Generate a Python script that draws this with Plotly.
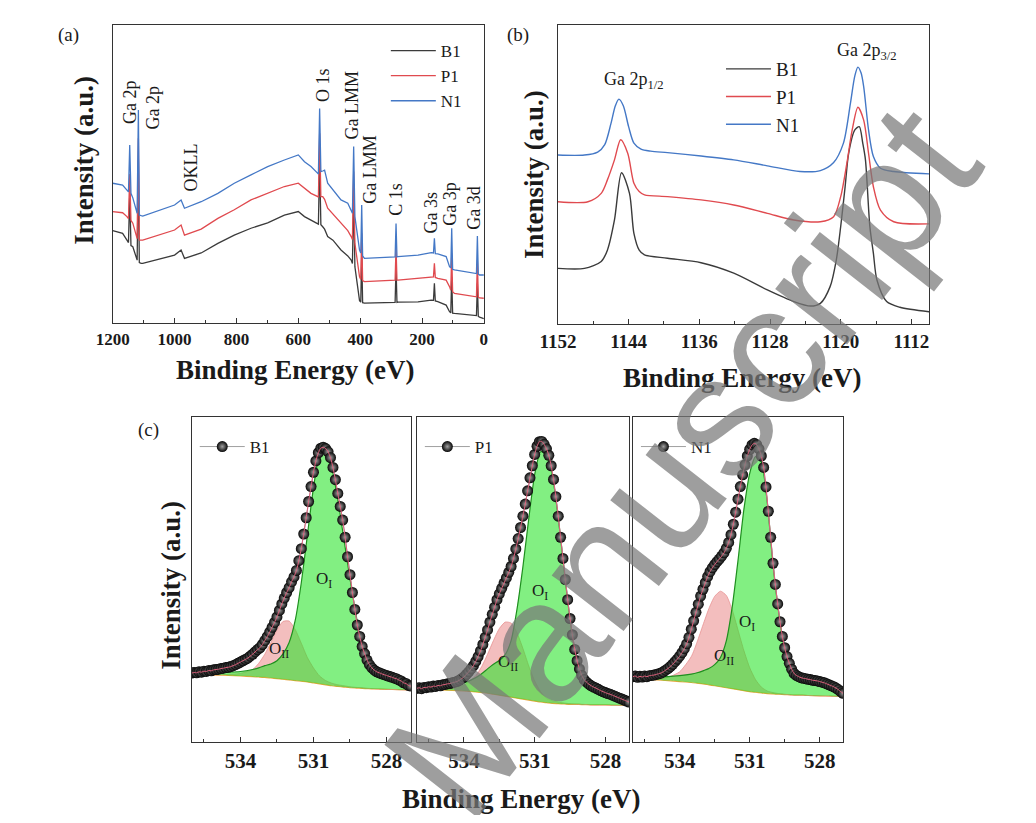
import plotly.graph_objects as go

# ---------------- (a) survey spectra ----------------
survey_ev = [1200, 1168, 1154, 1149, 1145, 1141, 1135, 1128, 1121, 1117, 1114, 1108, 1103,
             1000, 984, 979, 968, 914, 860, 807, 753, 699, 645, 600, 580, 559, 537,
             535, 531, 527, 521, 515, 505, 488, 462, 440, 429, 425, 421, 417, 402, 398,
             395, 392, 386, 321, 287, 284, 281, 278, 213, 170, 163, 160, 157, 149,
             122, 111, 107, 104, 101, 95, 30, 24, 21, 18, 14, 0]
survey_b1 = [31.0, 30.1, 27.8, 27.0, 43.5, 26.0, 25.6, 23.0, 21.1, 54.7, 20.3, 20.0, 20.0,
             22.8, 23.9, 24.5, 21.7, 23.5, 26.7, 29.5, 31.8, 33.6, 36.2, 37.4, 35.7, 34.6, 33.4,
             33.2, 54.7, 33.0, 32.3, 31.5, 29.0, 27.8, 24.5, 22.5, 21.1, 20.0, 42.4, 18.9, 7.5, 7.0,
             23.4, 6.8, 6.7, 6.8, 6.9, 18.9, 6.9, 7.0, 7.1, 7.7, 7.6, 13.3, 7.4, 7.2,
             6.0, 3.8, 3.4, 15.5, 3.3, 3.2, 2.7, 2.5, 13.3, 2.2, 2.0, 1.5]
survey_p1 = [37.4, 37.0, 35.7, 35.0, 50.0, 34.4, 33.5, 31.0, 28.3, 62.0, 27.8, 27.8, 27.8,
             31.2, 32.3, 32.9, 29.5, 31.5, 35.1, 38.0, 41.3, 43.5, 45.8, 46.9, 45.2, 43.5, 42.4,
             42.2, 63.7, 42.4, 42.4, 41.5, 38.5, 36.5, 33.4, 31.0, 29.0, 28.0, 50.8, 26.7, 15.5, 14.6,
             30.1, 14.2, 13.9, 14.2, 14.4, 25.6, 14.4, 14.4, 15.0, 15.5, 15.5, 20.0, 15.3, 15.0,
             14.4, 12.2, 11.0, 23.4, 10.5, 9.9, 9.0, 8.8, 21.1, 8.6, 8.4, 8.3]
survey_n1 = [46.9, 46.3, 44.6, 44.0, 59.7, 43.5, 42.0, 39.0, 36.8, 71.5, 36.2, 36.0, 35.9,
             39.6, 40.7, 41.3, 38.5, 40.7, 43.5, 46.9, 49.7, 52.5, 54.7, 56.4, 54.1, 52.5, 50.2,
             50.0, 72.0, 50.8, 51.0, 51.3, 46.9, 44.6, 41.3, 40.2, 37.5, 36.8, 59.2, 35.7, 24.5, 23.5,
             39.6, 22.5, 21.7, 22.0, 22.2, 33.4, 22.2, 22.3, 22.8, 23.6, 23.5, 28.4, 23.3, 23.2,
             22.3, 18.9, 18.5, 31.8, 18.0, 17.8, 16.9, 16.6, 29.2, 16.4, 16.1, 16.1]

# ---------------- (b) Ga 2p region ----------------
ga_ev_b1 = [1152, 1149.0, 1147.1, 1146.4, 1145.6, 1144.8, 1143.9, 1143.4, 1142.8, 1142.2, 1139.6,
            1135.8, 1132.1, 1128.3, 1125.3, 1123.4, 1122.3, 1121.2, 1120.5, 1120.0, 1119.5, 1119.1,
            1118.4, 1117.9, 1117.5, 1117.2, 1116.7, 1116.3, 1115.9, 1114.8, 1113.3, 1110]
ga_b1 = [18.6, 18.6, 20.9, 24.7, 34.8, 50.6, 43.7, 30.3, 24.7, 23.1, 22.0,
         20.5, 17.0, 11.4, 7.5, 6.0, 6.9, 12.5, 21.4, 32.6, 45.9, 57.1,
         64.9, 66.0, 60.4, 54.9, 32.6, 23.6, 14.7, 7.5, 5.6, 4.1]
ga_ev_p1 = [1152, 1148.6, 1147.1, 1146.4, 1145.6, 1144.9, 1144.1, 1143.4, 1142.8, 1142.2, 1139.6,
            1135.8, 1132.1, 1128.3, 1125.3, 1122.3, 1120.8, 1120.0, 1119.3, 1118.7, 1118.05,
            1117.4, 1116.85, 1116.3, 1115.5, 1114.0, 1110]
ga_p1 = [40.9, 40.9, 43.7, 48.2, 54.9, 61.6, 57.1, 47.1, 44.3, 43.2, 42.6,
         41.5, 39.8, 37.0, 34.8, 34.2, 35.9, 42.6, 53.8, 64.9, 72.5,
         68.2, 57.1, 45.9, 38.1, 34.2, 33.5]
ga_ev_n1 = [1152, 1149.0, 1147.5, 1146.7, 1146.0, 1145.5, 1145.1, 1144.6, 1144.0, 1143.4, 1142.6,
            1141.5, 1139.6, 1135.8, 1132.1, 1128.3, 1124.6, 1122.3, 1120.8, 1119.7, 1118.9,
            1118.4, 1118.05, 1117.7, 1117.4, 1116.85, 1116.3, 1115.5, 1114.0, 1110]
ga_n1 = [56.5, 56.5, 57.5, 60.0, 67.0, 73.0, 75.2, 73.0, 66.0, 60.5, 58.5,
         57.8, 57.3, 56.2, 54.9, 52.9, 51.0, 51.3, 54.0, 60.4, 73.8,
         83.0, 85.9, 84.0, 79.4, 64.9, 56.0, 52.1, 51.0, 50.2]

# ---------------- (c) O 1s region ----------------
o1s_ev = [round(536 - 0.1 * i, 1) for i in range(91)]
o1s_b1 = [21.2, 21.4, 21.3, 21.6, 21.5, 21.8, 21.7, 22.0, 21.9, 22.2,
          22.3, 22.4, 22.6, 22.7, 22.9, 23.0, 23.2, 23.5, 23.8, 24.2,
          24.6, 25.0, 25.4, 25.8, 26.4, 27.0, 27.7, 28.4, 29.0, 30.0,
          31.2, 32.4, 33.8, 35.3, 36.8, 38.5, 40.5, 42.5, 44.3, 46.0,
          47.5, 49.3, 50.8, 52.8, 55.8, 59.5, 64.0, 69.0, 74.0, 78.6,
          83.0, 86.5, 89.0, 90.4, 90.7, 90.3, 89.3, 87.5, 84.5, 80.7,
          76.5, 72.5, 68.3, 63.0, 57.0, 51.5, 46.0, 40.8, 36.0, 32.5,
          29.4, 27.2, 25.2, 23.8, 22.8, 22.1, 21.6, 21.3, 21.0, 20.7,
          20.5, 20.2, 20.0, 19.7, 19.5, 19.1, 18.8, 18.2, 18.0, 17.4, 17.2]
o1s_p1 = [16.5, 16.7, 16.4, 16.8, 16.7, 17.0, 16.9, 17.2, 17.1, 17.4,
          17.3, 17.6, 17.7, 17.9, 18.0, 18.2, 18.4, 18.6, 19.0, 19.5,
          20.0, 20.8, 21.6, 22.5, 23.5, 24.8, 26.3, 28.0, 30.0, 32.2,
          34.5, 36.9, 39.3, 41.5, 43.8, 45.6, 47.3, 48.9, 50.5, 52.2,
          54.0, 56.5, 59.4, 62.6, 66.0, 69.5, 73.2, 77.3, 81.3, 85.0,
          88.5, 91.0, 92.4, 92.5, 91.6, 90.2, 88.2, 85.0, 80.8, 75.5,
          69.5, 63.0, 56.5, 50.0, 43.8, 38.0, 33.0, 28.5, 25.0, 22.5,
          20.5, 19.2, 18.4, 17.8, 17.3, 16.9, 16.6, 16.2, 15.8, 15.5,
          15.2, 14.9, 14.7, 14.4, 14.1, 13.8, 13.5, 13.2, 12.9, 12.6, 12.3]
o1s_n1 = [20.1, 20.3, 19.9, 20.2, 20.0, 20.3, 20.1, 20.4, 20.5, 20.6,
          20.8, 21.0, 21.2, 21.6, 22.1, 22.6, 23.2, 23.9, 24.7, 25.5,
          26.4, 27.5, 28.7, 30.2, 32.2, 34.7, 37.3, 39.9, 42.4, 44.9,
          47.0, 49.0, 50.9, 52.4, 53.6, 54.6, 55.5, 56.3, 57.2, 58.2,
          59.6, 61.4, 63.8, 67.0, 70.7, 74.7, 78.6, 82.2, 85.3, 88.0,
          90.0, 91.4, 91.9, 91.5, 90.2, 88.0, 84.5, 78.5, 71.0, 63.0,
          55.0, 48.5, 42.5, 37.0, 32.5, 29.0, 26.3, 24.2, 22.4, 21.1,
          20.5, 20.1, 19.8, 19.6, 19.5, 19.3, 19.2, 19.0, 18.9, 18.8,
          18.6, 18.4, 18.2, 17.9, 17.6, 17.3, 17.0, 16.6, 16.1, 15.5, 15.0]

# fitted components (peak + background) and Shirley background
comp_ev = [536, 535.5, 535, 534.5, 534, 533.5, 533.25, 533, 532.75, 532.5, 532.25, 532,
           531.75, 531.5, 531.25, 531, 530.75, 530.5, 530.25, 530, 529.75, 529.5, 529.25,
           529, 528.75, 528.5, 528, 527.5, 527]
bg_b1 = [20.8, 20.7, 20.6, 20.5, 20.3, 20.1, 20.0, 19.9, 19.7, 19.5, 19.3, 19.1, 18.9, 18.7,
         18.5, 18.2, 17.9, 17.6, 17.3, 17.1, 16.9, 16.7, 16.6, 16.5, 16.4, 16.3, 16.2, 16.1, 16.0]
oii_b1 = [20.8, 20.7, 20.7, 20.8, 21.1, 22.3, 24.2, 27.0, 30.6, 34.5, 37.1, 37.2, 34.6, 30.4,
          26.0, 22.8, 20.3, 18.9, 18.1, 17.6, 17.3, 17.0, 16.8, 16.7, 16.5, 16.4, 16.2, 16.1, 16.0]
oi_b1 = [21.3, 21.3, 21.4, 21.5, 21.7, 22.3, 22.8, 23.5, 24.0, 25.0, 27.1, 30.6, 37.4, 49.0,
         63.6, 78.2, 88.0, 89.0, 84.3, 74.6, 62.4, 50.2, 39.1, 29.0, 25.0, 22.2, 19.4, 18.2, 17.6]
bg_p1 = [16.2, 16.1, 16.0, 15.9, 15.7, 15.4, 15.2, 15.0, 14.7, 14.4, 14.1, 13.8, 13.5, 13.2,
         12.9, 12.6, 12.3, 12.1, 11.9, 11.8, 11.7, 11.6, 11.6, 11.5, 11.5, 11.4, 11.4, 11.3, 11.3]
oii_p1 = [16.2, 16.1, 16.1, 16.5, 17.5, 20.4, 23.2, 27.0, 31.2, 34.9, 36.9, 36.6, 33.6, 28.8,
          23.4, 18.8, 15.5, 13.5, 12.7, 12.3, 12.0, 11.8, 11.7, 11.6, 11.5, 11.4, 11.4, 11.3, 11.3]
oi_p1 = [16.5, 17.0, 17.2, 17.6, 18.2, 19.8, 21.0, 22.5, 23.9, 25.1, 26.9, 31.2, 40.9, 53.9,
         68.8, 82.3, 89.3, 88.8, 82.1, 69.0, 52.9, 37.8, 26.6, 20.5, 18.1, 16.9, 15.2, 13.8, 12.3]
bg_n1 = [19.5, 19.3, 19.1, 18.9, 18.6, 18.3, 18.1, 17.9, 17.6, 17.3, 17.0, 16.7, 16.4, 16.1,
         15.8, 15.5, 15.3, 15.1, 14.9, 14.8, 14.7, 14.6, 14.5, 14.4, 14.4, 14.3, 14.2, 14.1, 14.0]
oii_n1 = [19.5, 19.3, 19.3, 19.9, 21.6, 26.3, 30.8, 36.0, 41.0, 44.8, 46.4, 45.1, 40.7, 34.5,
          28.2, 22.9, 19.2, 16.9, 15.7, 15.2, 14.9, 14.7, 14.5, 14.4, 14.4, 14.3, 14.2, 14.1, 14.0]
oi_n1 = [20.0, 20.0, 20.0, 20.1, 20.4, 20.9, 21.3, 21.9, 22.6, 23.8, 26.0, 31.1, 41.4, 55.8,
         71.4, 82.6, 87.8, 86.2, 74.0, 54.6, 39.6, 28.9, 23.3, 20.5, 19.7, 19.3, 18.6, 17.3, 15.0]

samples = ['B1', 'P1', 'N1']
colors = {'B1': '#3b3b3b', 'P1': '#e04a4f', 'N1': '#4478c6'}

# page geometry: figure sits inside the 8px body margin; horizontal
# positions are corrected for the slight squeeze seen in the capture
W, H = 1020, 807
def fx(px):
    return ((px - 17.5) / 0.978 - 8) / W
def fy(py):
    return 1 - (py - 8) / H

SERIF = 'Liberation Serif'
AX = '#333333'
INK = '#1a1a1a'

fig = go.Figure()

for name, ys in zip(samples, [survey_b1, survey_p1, survey_n1]):
    fig.add_trace(go.Scatter(x=survey_ev, y=ys, mode='lines', name=name,
                             line=dict(color=colors[name], width=1.3),
                             xaxis='x', yaxis='y', legend='legend'))

for name, xs, ys in zip(samples, [ga_ev_b1, ga_ev_p1, ga_ev_n1], [ga_b1, ga_p1, ga_n1]):
    fig.add_trace(go.Scatter(x=xs, y=ys, mode='lines', name=name,
                             line=dict(color=colors[name], width=1.4, shape='spline', smoothing=0.8),
                             xaxis='x2', yaxis='y2', legend='legend2'))

o1s_sets = [
    ('B1', o1s_b1, bg_b1, oii_b1, oi_b1),
    ('P1', o1s_p1, bg_p1, oii_p1, oi_p1),
    ('N1', o1s_n1, bg_n1, oii_n1, oi_n1),
]
for k, (name, data, bg, oii, oi) in enumerate(o1s_sets):
    xa, ya, lg = 'x%d' % (k + 3), 'y%d' % (k + 3), 'legend%d' % (k + 3)
    sp = dict(shape='spline', smoothing=0.6)
    fig.add_trace(go.Scatter(x=comp_ev, y=bg, mode='lines', showlegend=False,
                             line=dict(color='#e8a640', width=1.2, **sp), xaxis=xa, yaxis=ya))
    fig.add_trace(go.Scatter(x=comp_ev, y=oii, mode='lines', showlegend=False, fill='tonexty',
                             fillcolor='rgba(236,150,150,0.62)',
                             line=dict(color='rgba(230,140,140,0.9)', width=0.8, **sp), xaxis=xa, yaxis=ya))
    fig.add_trace(go.Scatter(x=comp_ev, y=bg, mode='lines', showlegend=False,
                             line=dict(color='rgba(0,0,0,0)', width=0, **sp), xaxis=xa, yaxis=ya))
    fig.add_trace(go.Scatter(x=comp_ev, y=oi, mode='lines', showlegend=False, fill='tonexty',
                             fillcolor='rgba(40,228,40,0.58)',
                             line=dict(color='#1f8f1f', width=1.2, **sp), xaxis=xa, yaxis=ya))
    fig.add_trace(go.Scatter(x=o1s_ev, y=data, mode='lines+markers', name=name,
                             line=dict(color='#a0a0a0', width=1),
                             marker=dict(size=11, color='#050505',
                                         gradient=dict(type='radial', color='#a0a0a0'),
                                         line=dict(width=0)),
                             xaxis=xa, yaxis=ya, legend=lg))
    fig.add_trace(go.Scatter(x=o1s_ev, y=data, mode='lines', showlegend=False,
                             line=dict(color='#e0607c', width=1.0, shape='spline', smoothing=0.6),
                             xaxis=xa, yaxis=ya))


def xstyle(size, **kw):
    d = dict(showline=True, linecolor=AX, linewidth=1.3, mirror=True, showgrid=False,
             zeroline=False, ticks='inside', ticklen=5, tickwidth=1.2, tickcolor=AX,
             tickfont=dict(family=SERIF, size=size, color=INK, weight='bold'))
    d.update(kw)
    return d

def ystyle(**kw):
    d = dict(showline=True, linecolor=AX, linewidth=1.3, mirror=True, showgrid=False,
             zeroline=False, ticks='', showticklabels=False, range=[0, 100])
    d.update(kw)
    return d

minor_c = dict(tick0=534, dtick=1.5, ticks='inside', ticklen=3, tickcolor=AX)
c_dom = [(191, 410), (416, 628), (632, 842)]

layout = dict(
    width=W, height=H, autosize=False,
    margin=dict(l=0, r=0, t=0, b=0),
    paper_bgcolor='white', plot_bgcolor='white',
    font=dict(family=SERIF, color=INK),
    xaxis=xstyle(17, domain=[fx(112), fx(483)], range=[1200, 0], dtick=200, tick0=0,
                 minor=dict(dtick=100, ticks='inside', ticklen=3, tickcolor=AX), anchor='y'),
    yaxis=ystyle(domain=[fy(323), fy(25)], anchor='x'),
    xaxis2=xstyle(19, domain=[fx(557), fx(928)], range=[1152, 1110], dtick=8, tick0=1112,
                  minor=dict(dtick=4, ticks='inside', ticklen=3, tickcolor=AX), anchor='y2'),
    yaxis2=ystyle(domain=[fy(324), fy(25)], anchor='x2'),
)
for k, (l, r) in enumerate(c_dom):
    layout['xaxis%d' % (k + 3)] = xstyle(21, domain=[fx(l), fx(r)], range=[536, 527],
                                         tickvals=[534, 531, 528], minor=minor_c,
                                         anchor='y%d' % (k + 3))
    layout['yaxis%d' % (k + 3)] = ystyle(domain=[fy(742), fy(417)], anchor='x%d' % (k + 3))

leg = dict(bgcolor='rgba(0,0,0,0)', borderwidth=0, xanchor='left', yanchor='top',
           tracegroupgap=0, traceorder='normal')
layout['legend'] = dict(leg, x=fx(385), y=fy(33), itemwidth=45,
                        font=dict(family=SERIF, size=17, color=INK))
layout['legend2'] = dict(leg, x=fx(720), y=fy(50), itemwidth=45,
                         font=dict(family=SERIF, size=19, color=INK))
for k, (l, r) in enumerate(c_dom):
    layout['legend%d' % (k + 3)] = dict(leg, x=fx(l + 3), y=fy(429), itemwidth=45,
                                        font=dict(family=SERIF, size=17, color=INK))
fig.update_layout(**layout)

ann = []
# peak labels in (a)
for txt, ev, v in [('Ga 2p', 1144, 74.2), ('Ga 2p', 1070, 72.3), ('OKLL', 947, 52.2),
                   ('O 1s', 520, 79.9), ('Ga LMM', 426, 73.0), ('Ga LMM', 371, 51.5),
                   ('C 1s', 284, 41.4), ('Ga 3s', 170, 37.2), ('Ga 3p', 112, 40.1),
                   ('Ga 3d', 31, 38.8)]:
    ann.append(dict(text=txt, x=ev, y=v, xref='x', yref='y', textangle=-90, showarrow=False,
                    xanchor='center', yanchor='middle',
                    font=dict(family=SERIF, size=18, color=INK)))
# peak labels in (b)
ann.append(dict(text='Ga 2p<sub>1/2</sub>', x=1143.4, y=81.6, xref='x2', yref='y2',
                showarrow=False, xanchor='center', yanchor='middle',
                font=dict(family=SERIF, size=18, color=INK)))
ann.append(dict(text='Ga 2p<sub>3/2</sub>', x=1117.0, y=91.0, xref='x2', yref='y2',
                showarrow=False, xanchor='center', yanchor='middle',
                font=dict(family=SERIF, size=18, color=INK)))
# component labels in (c)
for k, (oi_pos, oii_pos) in enumerate([((530.57, 49.8), (532.4, 28.3)),
                                       ((530.77, 46.3), (532.13, 24.2)),
                                       ((531.11, 36.5), (532.11, 26.3))]):
    for txt, (ev, v) in [('O<sub>I</sub>', oi_pos), ('O<sub>II</sub>', oii_pos)]:
        ann.append(dict(text=txt, x=ev, y=v, xref='x%d' % (k + 3), yref='y%d' % (k + 3),
                        showarrow=False, xanchor='center', yanchor='middle',
                        font=dict(family=SERIF, size=17, color=INK)))
# panel letters
for txt, px, py in [('(a)', 68, 35), ('(b)', 517, 35), ('(c)', 148, 430)]:
    ann.append(dict(text=txt, x=fx(px), y=fy(py), xref='paper', yref='paper', showarrow=False,
                    xanchor='center', yanchor='middle',
                    font=dict(family=SERIF, size=19, color=INK)))
# axis titles
bold = dict(family=SERIF, size=27, color=INK, weight='bold')
for px, py in [(83, 160), (533, 174), (170, 585)]:
    ann.append(dict(text='Intensity (a.u.)', x=fx(px), y=fy(py), xref='paper', yref='paper',
                    textangle=-90, showarrow=False, xanchor='center', yanchor='middle', font=bold))
for px, py in [(295, 370), (742, 378), (521, 799)]:
    ann.append(dict(text='Binding Energy (eV)', x=fx(px), y=fy(py), xref='paper', yref='paper',
                    showarrow=False, xanchor='center', yanchor='middle', font=bold))
# watermark
ann.append(dict(text='Manuscript', x=fx(680), y=fy(460), xref='paper', yref='paper',
                textangle=-52, showarrow=False, xanchor='center', yanchor='middle',
                font=dict(family='Liberation Sans', size=172, color='rgba(120,120,120,0.72)')))
fig.update_layout(annotations=ann)

fig.write_html("out.html")
